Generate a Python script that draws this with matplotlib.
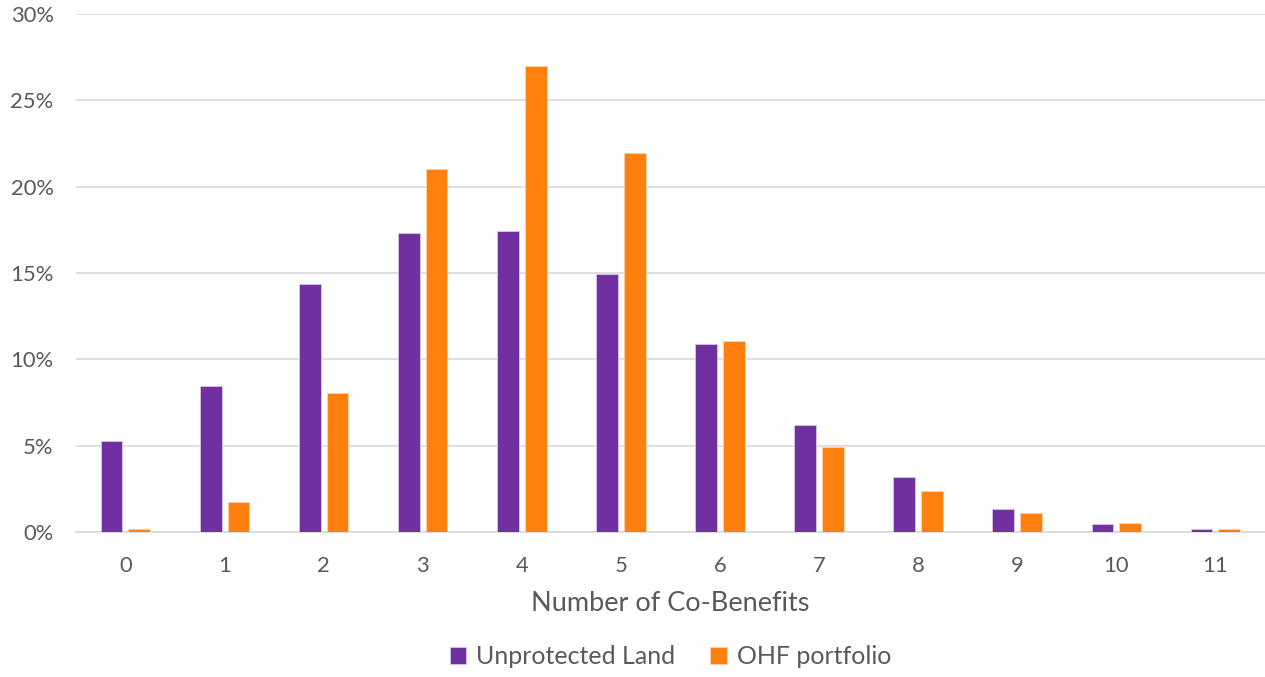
import numpy as np
import matplotlib
matplotlib.use("Agg")
import matplotlib.pyplot as plt
from matplotlib.ticker import PercentFormatter

# -----------------------------
# Data: share of land by number of co-benefits
# -----------------------------
co_benefits = [0, 1, 2, 3, 4, 5, 6, 7, 8, 9, 10, 11]
unprotected_land = [5.27, 8.45, 14.36, 17.31, 17.43, 14.95, 10.89, 6.2, 3.18, 1.33, 0.46, 0.17]
ohf_portfolio = [0.17, 1.74, 8.05, 21.02, 26.98, 21.95, 11.06, 4.92, 2.37, 1.1, 0.52, 0.17]

purple = "#7030A0"
orange = "#FF800E"
text_grey = "#595959"

plt.rcParams["font.family"] = ["Lato", "DejaVu Sans"]

fig = plt.figure(figsize=(12.65, 6.77), dpi=100)
ax = fig.add_axes([0.060, 0.2142, 0.940, 0.765])

x = np.arange(len(co_benefits))
bar_w = 0.22
ax.bar(x - 0.14, unprotected_land, width=bar_w, color=purple,
       edgecolor="#d9c6e6", linewidth=0.6, label="Unprotected Land", zorder=3)
ax.bar(x + 0.14, ohf_portfolio, width=bar_w, color=orange,
       edgecolor="#ffd2a8", linewidth=0.6, label="OHF portfolio", zorder=3)

# -----------------------------
# Axes styling
# -----------------------------
ax.set_xlim(-0.5, len(co_benefits) - 0.5)
ax.set_ylim(0, 30)
ax.set_yticks(np.arange(0, 31, 5))
ax.yaxis.set_major_formatter(PercentFormatter(decimals=0))
ax.set_xticks(x)
ax.set_xticklabels([str(c) for c in co_benefits])
ax.grid(axis="y", color="#d9d9d9", linewidth=1.2, zorder=0)
for side in ["top", "right", "left"]:
    ax.spines[side].set_visible(False)
ax.spines["bottom"].set_color("#d9d9d9")
ax.spines["bottom"].set_linewidth(1.2)
ax.tick_params(axis="both", length=0, labelsize=15.8, colors=text_grey)
ax.tick_params(axis="x", pad=17)
ax.tick_params(axis="y", pad=16)

ax.set_xlabel("Number of Co-Benefits", fontsize=19.5, color=text_grey, labelpad=11)

ax.legend(loc="upper center", bbox_to_anchor=(0.5, -0.175), ncol=2, frameon=False,
          fontsize=18, labelcolor=text_grey, handlelength=0.65, handleheight=0.65,
          handletextpad=0.4, columnspacing=1.4)

plt.savefig("out.png", dpi=100)
